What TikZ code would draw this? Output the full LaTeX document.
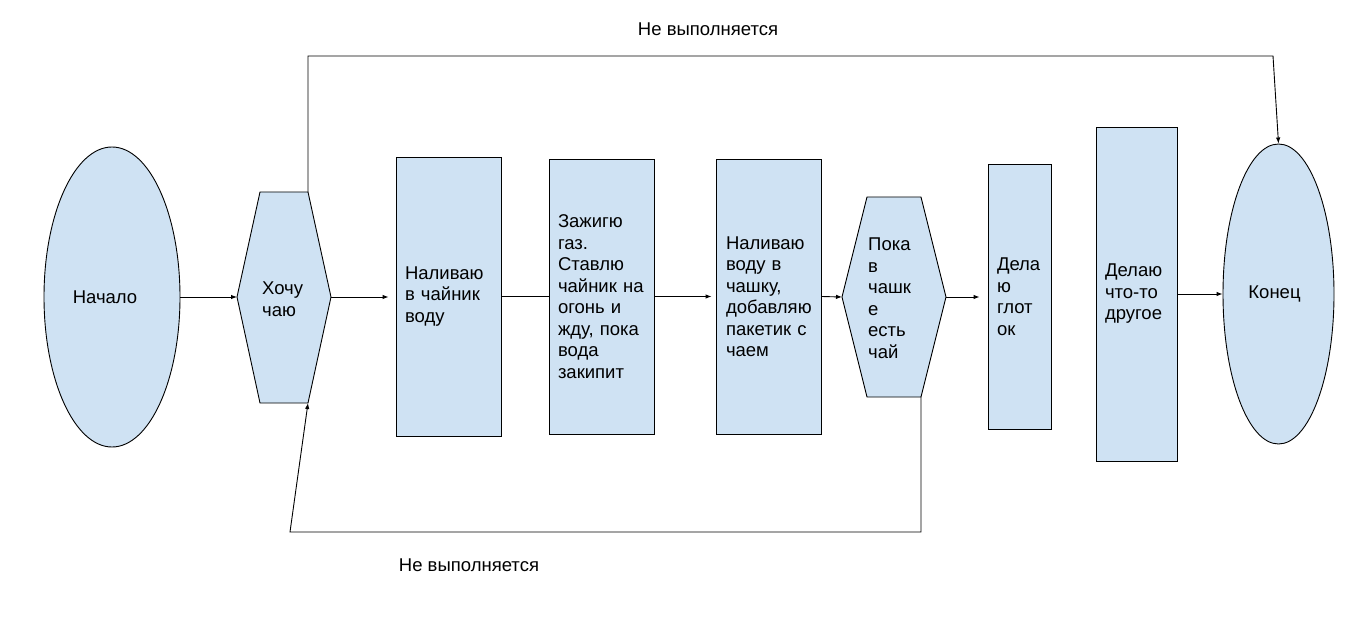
\documentclass[tikz,border=0pt]{standalone}
\usepackage{fontspec}
\setmainfont{Liberation Sans}
\usetikzlibrary{shapes.geometric,arrows.meta}
\definecolor{fillblue}{HTML}{CFE2F3}
\begin{document}
\begin{tikzpicture}[x=1pt,y=-1pt,
  txt/.style={font=\fontsize{18.5}{21.5}\selectfont},
  oval/.style={ellipse,draw=black,fill=fillblue,line width=0.9pt,inner sep=0pt,txt},
  box/.style={rectangle,draw=black,fill=fillblue,line width=0.9pt,inner xsep=9pt,inner ysep=0pt,align=left,txt},
  hexa/.style={draw=black,fill=fillblue,line width=0.9pt},
  conn/.style={draw=black,line width=0.9pt},
  arr/.style={conn,-{Latex[length=6pt,width=4.5pt]}}]
\useasboundingbox (0,0) rectangle (1362,636);
\fill[white] (0,0) rectangle (1362,636);

% start / end
\node[oval,minimum width=136pt,minimum height=300pt] (start) at (112,297) {Начало\hspace*{14pt}};
\node[oval,minimum width=111pt,minimum height=300pt] (end) at (1278.5,294) {Конец\hspace*{8pt}};

% hexagon 1
\coordinate (h1L) at (237,297);
\coordinate (h1TL) at (260,192);
\coordinate (h1TR) at (308,192);
\coordinate (h1R) at (331,297);
\coordinate (h1BR) at (308,403);
\coordinate (h1BL) at (260,403);
\draw[hexa] (h1L) -- (h1TL) -- (h1TR) -- (h1R) -- (h1BR) -- (h1BL) -- cycle;
\node[txt,align=left,inner sep=0pt,anchor=west] (want) at (262,299) {Хочу\\чаю};

% hexagon 2
\coordinate (h2L) at (842,297);
\coordinate (h2TL) at (867,197);
\coordinate (h2TR) at (921,197);
\coordinate (h2R) at (946,297);
\coordinate (h2BR) at (921,397);
\coordinate (h2BL) at (867,397);
\draw[hexa] (h2L) -- (h2TL) -- (h2TR) -- (h2R) -- (h2BR) -- (h2BL) -- cycle;
\node[txt,align=left,inner sep=0pt,anchor=west] (while) at (868,298) {Пока\\в\\чашк\\е\\есть\\чай};

% boxes
\node[box,text width=87pt,minimum height=279pt] (r1) at (448.5,296.5) {Наливаю\\в~чайник\\воду};
\node[box,text width=87pt,minimum height=275pt] (r2) at (601.5,296.5) {Зажигю\\газ.\\Ставлю\\чайник~на\\огонь~и\\жду,~пока\\вода\\закипит};
\node[box,inner xsep=10pt,text width=85pt,minimum height=275pt] (r3) at (768.5,296.5) {Наливаю\\воду~в\\чашку,\\добавляю\\пакетик~с\\чаем};
\node[box,text width=45pt,minimum height=265pt] (r4) at (1019.5,296.5) {Дела\\ю\\глот\\ок};
\node[box,text width=63pt,minimum height=334pt] (r5) at (1136.5,294) {Делаю\\что-то\\другое};

% connectors
\draw[arr] (start.east) -- (h1L);
\draw[arr,shorten >=7pt] (h1R) -- (h1R -| r1.west);
\draw[conn] (r1.east) -- (r2.west);
\draw[arr,shorten >=4pt] (r2.east) -- (r3.west);
\draw[arr] (r3.east) -- (h2L);
\draw[arr,shorten >=8pt] (h2R) -- (h2R -| r4.west);
\draw[arr] (r5.east) -- (end.west);

\coordinate (ctop) at (1273,56);
\coordinate (cbot) at (290,532);
\draw[arr] (h1TR) -- (h1TR |- ctop) -- (ctop) -- (end.north);
\draw[arr] (h2BR) -- (h2BR |- cbot) -- (cbot) -- (h1BR);

% labels
\node[txt] (lbltop) at (708,29) {Не выполняется};
\node[txt] (lblbot) at (469,565) {Не выполняется};
\end{tikzpicture}
\end{document}
